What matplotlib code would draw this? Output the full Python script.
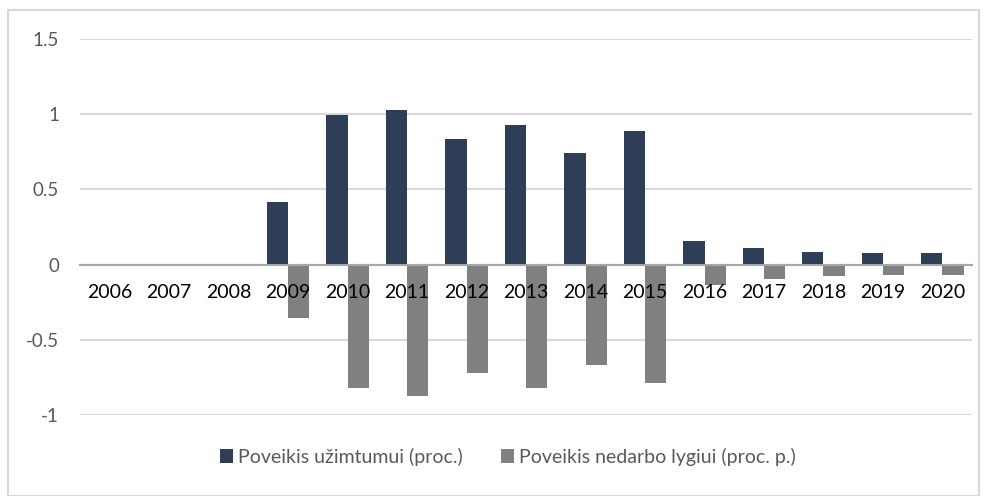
import matplotlib
matplotlib.use("Agg")
import matplotlib.pyplot as plt
import numpy as np
from matplotlib.patches import Rectangle

years = ["2006", "2007", "2008", "2009", "2010", "2011", "2012", "2013",
         "2014", "2015", "2016", "2017", "2018", "2019", "2020"]
employment = [0, 0, 0, 0.413, 0.995, 1.031, 0.834, 0.925, 0.743, 0.885,
              0.154, 0.110, 0.085, 0.076, 0.074]
unemployment = [0, 0, 0, -0.355, -0.818, -0.874, -0.723, -0.818, -0.666, -0.785,
                -0.136, -0.098, -0.076, -0.070, -0.068]
labels = ["Poveikis užimtumui (proc.)", "Poveikis nedarbo lygiui (proc. p.)"]
colors = ["#2E3E56", "#808080"]

plt.rcParams['font.family'] = ['Lato', 'DejaVu Sans']

fig = plt.figure(figsize=(9.88, 4.96), dpi=100)
ax = fig.add_axes([0.081, 0.1633, 0.903, 0.7581])

x = np.arange(len(years))
w = 0.358
b1 = ax.bar(x - w/2, employment, width=w, color=colors[0], label=labels[0], zorder=3)
b2 = ax.bar(x + w/2, unemployment, width=w, color=colors[1], label=labels[1], zorder=3)

ax.set_xlim(-0.5, len(years) - 0.5)
ax.set_ylim(-1.0, 1.5)
ax.set_yticks([-1, -0.5, 0, 0.5, 1, 1.5])
ax.set_yticklabels(["-1", "-0.5", "0", "0.5", "1", "1.5"])
ax.tick_params(axis='y', length=0, pad=15, labelsize=13.5, labelcolor="#595959")
ax.grid(axis='y', color="#D9D9D9", linewidth=1.5)
ax.yaxis.set_zorder(0.5)
ax.xaxis.set_zorder(5)

for s in ['top', 'right', 'left']:
    ax.spines[s].set_visible(False)
ax.spines['bottom'].set_position(('data', 0))
ax.spines['bottom'].set_color("#A6A6A6")
ax.spines['bottom'].set_linewidth(1.5)
ax.spines['bottom'].set_zorder(4)
ax.set_xticks(x)
ax.set_xticklabels(years)
ax.tick_params(axis='x', length=0, pad=14, labelsize=14, labelcolor="black")

leg = fig.legend(handles=[b1, b2], labels=labels, loc='center', ncol=2,
                 bbox_to_anchor=(0.514, 0.079), frameon=False, fontsize=14,
                 handlelength=0.68, handleheight=0.68, handletextpad=0.25,
                 columnspacing=2.0)
for t in leg.get_texts():
    t.set_color("#595959")

fig.patches.append(Rectangle((8/988, 0), 979/988 - 8/988 + 0.0, 1 - 10/496,
                             transform=fig.transFigure, fill=False,
                             edgecolor="#D9D9D9", linewidth=1.5))

fig.savefig("out.png", dpi=100)
